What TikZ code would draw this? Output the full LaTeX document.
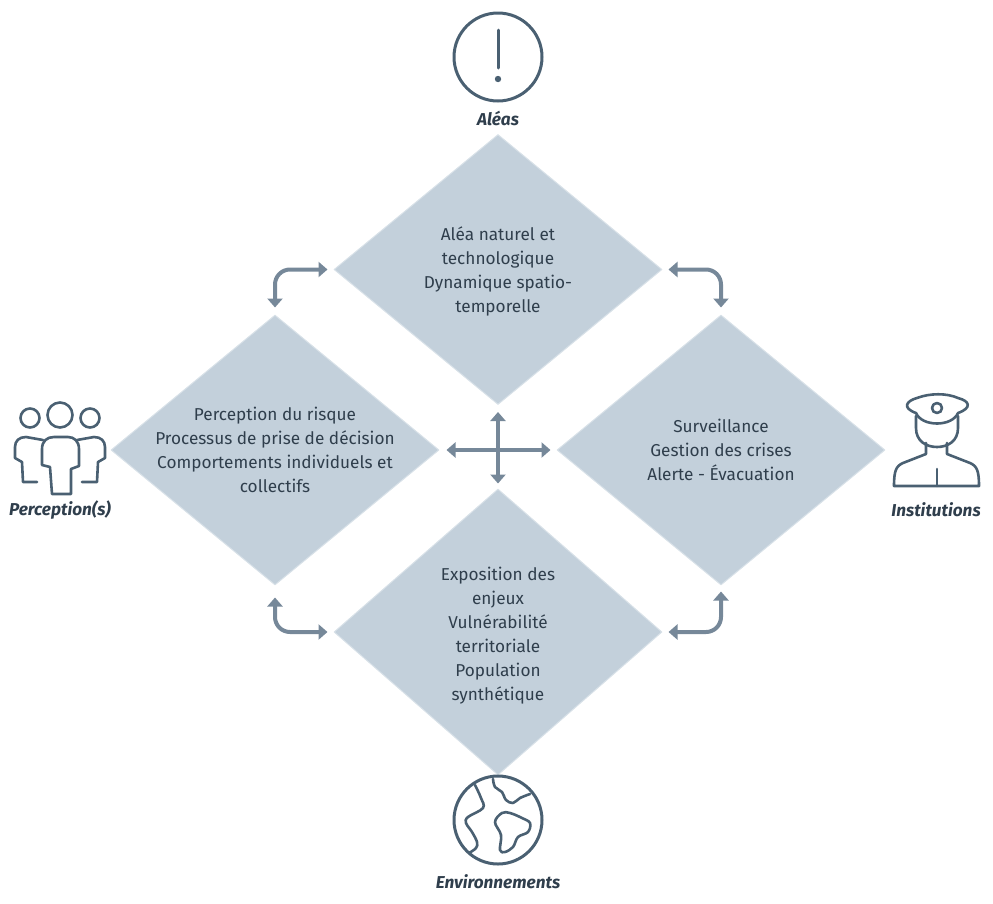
\documentclass[tikz,border=0pt]{standalone}
\usepackage{fontspec}
\setmainfont{Fira Sans}
\usetikzlibrary{shapes.geometric,arrows.meta}
\definecolor{dia}{HTML}{C3D0DB}
\definecolor{diaedge}{HTML}{D8E1E8}
\definecolor{arrowc}{HTML}{768899}
\definecolor{icon}{HTML}{4A6072}
\definecolor{txt}{HTML}{2F3E4C}
\tikzset{
  bigdiamond/.style={diamond,aspect=1.2148,inner sep=-8pt,minimum width=328pt,minimum height=270pt,fill=dia,draw=diaedge,line width=1pt,line join=round,text=txt,align=center,font=\fontsize{17.2}{24}\selectfont},
  conn/.style={draw=arrowc,line width=4pt,{Triangle[length=9pt,width=15pt]}-{Triangle[length=9pt,width=15pt]},rounded corners=15pt},
  iconline/.style={draw=icon,line width=3pt,line join=round,line cap=round},
  iconthin/.style={draw=icon,line width=2.6pt,line join=round,line cap=round},
  caption/.style={text=txt,font=\fontsize{17.2}{20}\selectfont\bfseries\itshape}
}
\begin{document}
\begin{tikzpicture}[x=1pt,y=-1pt]
\useasboundingbox (0,0) rectangle (993,903);
\node[bigdiamond] (top) at (498,269.5) {\rule{0pt}{18pt}Aléa naturel et\\technologique\\Dynamique spatio-\\temporelle};
\node[bigdiamond] (left) at (275,450) {Perception du risque\\Processus de prise de décision\\Comportements individuels et\\collectifs};
\node[bigdiamond] (right) at (721,450) {Surveillance\\Gestion des crises\\Alerte - Évacuation};
\node[bigdiamond,aspect=1.147,minimum height=286pt] (bottom) at (498,632) {\rule{0pt}{21pt}Exposition des\\enjeux\\Vulnérabilité\\territoriale\\Population\\synthétique};

\draw[conn,shorten <=6pt,shorten >=7pt] (top.west) -| (left.north);
\draw[conn,shorten <=6pt,shorten >=7pt] (top.east) -| (right.north);
\draw[conn,shorten <=6pt,shorten >=12pt] (bottom.west) -| (left.south);
\draw[conn,shorten <=6pt,shorten >=6pt] (bottom.east) -| (right.south);
\draw[conn,shorten <=7pt,shorten >=6pt] (left.east) -- (right.west);
\draw[conn,shorten <=7pt,shorten >=5pt] (top.south) -- (bottom.north);

\node[caption] (c1) at (498,118) {Aléas};
\node[caption] (c2) at (60,510) {Perception(s)};
\node[caption] (c3) at (936,510) {Institutions};
\node[caption] (c4) at (498,882) {Environnements};

% Alert icon
\draw[iconline] (498,57) circle (44);
\draw[iconline] (498,30) -- (498,68);
\fill[icon] (498,79) circle (3.2);

% People icon
\draw[iconthin] (60,415) circle (12.5) (30,418) circle (9.5) (90,418) circle (9.5);
\draw[iconthin] (52,494) -- (50,467) -- (42,465) -- (42,449) .. controls (42,441) and (47,437) .. (54,437)
  -- (68,437) .. controls (74,437) and (79,441) .. (79,449) -- (79,466) -- (71,469) -- (71,494) -- cycle;
\draw[iconthin] (43,440) -- (26,437) .. controls (19,437) and (15,441) .. (15,447) -- (15,458) -- (22,462) -- (23,482) -- (37,482);
\draw[iconthin] (77,440) -- (94,437) .. controls (101,437) and (105,441) .. (105,447) -- (105,458) -- (98,462) -- (97,482) -- (82,482);

% Officer icon
\draw[iconthin] (916,413) .. controls (902,408) and (906,401) .. (917,398)
  .. controls (930,393) and (947,393) .. (958,398) .. controls (970,401) and (972,408) .. (958,413)
  .. controls (952,427) and (922,427) .. (916,413) -- cycle;
\draw[iconthin] (937,408) circle (5);
\draw[iconthin] (916,416) -- (916,428) .. controls (916,441) and (926,447) .. (937,447) .. controls (948,447) and (958,441) .. (958,428) -- (958,416);
\draw[iconthin] (926,443) -- (926,454) -- (903,463) .. controls (896,466) and (894,471) .. (894,486) -- (979,486)
  .. controls (979,471) and (977,466) .. (970,463) -- (947,454) -- (947,443);
\draw[iconthin] (937,469) -- (937,486);

% Globe icon
\draw[iconline] (498,820) circle (44);
\draw[iconthin] plot[smooth,tension=0.6] coordinates {(475,785) (481,798) (483,808) (468,817) (466,823) (472,832) (477,842) (476,848) (469,853)};
\draw[iconthin] plot[smooth,tension=0.6] coordinates {(493,779) (495,787) (502,792) (506,800) (513,803) (520,798) (530,794)};
\draw[iconthin] plot[smooth cycle,tension=0.6] coordinates {(495,822) (502,813) (510,813) (522,818) (530,823) (528,832) (518,837) (513,847) (505,852) (500,850) (501,835)};
\end{tikzpicture}
\end{document}
